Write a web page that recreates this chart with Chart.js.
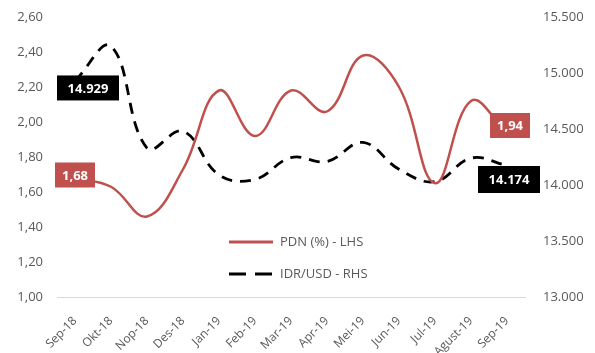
<!DOCTYPE html>
<html lang="id">
  <head>
    <meta charset="UTF-8" />
    <title>PDN vs IDR/USD</title>
  </head>
  <style>
    * {
      margin: 0;
      padding: 0;
    }
    body {
      background: #ffffff;
    }
    .chartBox {
      width: 595px;
      height: 353px;
    }
  </style>
  <body>
    <div class="chartBox">
      <canvas id="myChart" width="595" height="353"></canvas>
    </div>

    <script src="https://cdn.jsdelivr.net/npm/chart.js"></script>

    <script>
      // data
      const months = ["Sep-18", "Okt-18", "Nop-18", "Des-18", "Jan-19", "Feb-19", "Mar-19",
        "Apr-19", "Mei-19", "Jun-19", "Jul-19", "Agust-19", "Sep-19"];
      const pdn = [1.68, 1.63, 1.46, 1.73, 2.18, 1.92, 2.18, 2.06, 2.38, 2.20, 1.65, 2.12, 1.94];
      const idrUsd = [14929, 15240, 14330, 14480, 14090, 14050, 14245, 14210, 14380, 14140, 14030, 14240, 14174];
      const leftTicks = [1.0, 1.2, 1.4, 1.6, 1.8, 2.0, 2.2, 2.4, 2.6];
      const rightTicks = [13000, 13500, 14000, 14500, 15000, 15500];

      const fontFamily = "'Open Sans', 'Liberation Sans', sans-serif";
      const grey = "#595959";
      const red = "#C0504D";

      const fmtLeft = v => v.toFixed(2).replace(".", ",");
      const fmtRight = v => v.toLocaleString("de-DE");

      // boxed value labels on first and last points
      const valueLabels = {
        id: "valueLabels",
        afterDatasetsDraw(chart, args, opts) {
          const ctx = chart.ctx;
          opts.items.forEach(item => {
            const meta = chart.getDatasetMeta(item.dataset);
            const pt = meta.data[item.index];
            const raw = chart.data.datasets[item.dataset].data[item.index];
            const text = item.dataset === 0 ? fmtLeft(raw) : fmtRight(raw);
            const cx = pt.x + item.dx;
            const cy = pt.y + item.dy;
            ctx.save();
            ctx.font = "bold 13px " + fontFamily;
            ctx.fillStyle = item.bg;
            ctx.fillRect(cx - item.w / 2, cy - item.h / 2, item.w, item.h);
            ctx.fillStyle = "#ffffff";
            ctx.textAlign = "center";
            ctx.textBaseline = "middle";
            ctx.fillText(text, cx, cy + 1);
            ctx.restore();
          });
        }
      };

      // legend drawn inside the plot area
      const innerLegend = {
        id: "innerLegend",
        afterDraw(chart, args, opts) {
          const ctx = chart.ctx;
          ctx.save();
          chart.data.datasets.forEach((ds, i) => {
            const y = opts.y + i * opts.gap;
            ctx.beginPath();
            ctx.strokeStyle = ds.borderColor;
            ctx.lineWidth = 3;
            ctx.setLineDash(ds.borderDash ? [17, 9] : []);
            ctx.moveTo(opts.x, y);
            ctx.lineTo(opts.x + 44, y);
            ctx.stroke();
            ctx.setLineDash([]);
            ctx.fillStyle = grey;
            ctx.font = "13px " + fontFamily;
            ctx.textBaseline = "middle";
            ctx.fillText(ds.label, opts.x + 51, y);
          });
          ctx.restore();
        }
      };

      const data = {
        labels: months,
        datasets: [
          {
            label: "PDN (%) - LHS",
            data: pdn,
            borderColor: red,
            borderWidth: 2.5,
            tension: 0.4,
            pointRadius: 0,
            yAxisID: "y"
          },
          {
            label: "IDR/USD - RHS",
            data: idrUsd,
            borderColor: "#000000",
            borderWidth: 2.8,
            borderDash: [11, 8],
            tension: 0.4,
            pointRadius: 0,
            yAxisID: "y1"
          }
        ]
      };

      const config = {
        type: "line",
        data,
        options: {
          responsive: false,
          animation: false,
          layout: {
            padding: { top: 17, right: 0, bottom: 0, left: 0 }
          },
          plugins: {
            legend: { display: false },
            tooltip: { enabled: false },
            valueLabels: {
              items: [
                { dataset: 1, index: 0, dx: 13, dy: 7, w: 62, h: 25, bg: "#000000" },
                { dataset: 0, index: 0, dx: 0, dy: -3, w: 40, h: 25, bg: red },
                { dataset: 0, index: 12, dx: 3, dy: -7, w: 40, h: 25, bg: red },
                { dataset: 1, index: 12, dx: 2, dy: 14, w: 62, h: 27, bg: "#000000" }
              ]
            },
            innerLegend: { x: 229, y: 242, gap: 32 }
          },
          scales: {
            x: {
              offset: true,
              grid: { display: false, drawTicks: false },
              border: { display: true, color: "#d9d9d9", width: 1 },
              ticks: {
                color: grey,
                font: { family: fontFamily, size: 12 },
                minRotation: 45,
                maxRotation: 45,
                autoSkip: false,
                padding: 17
              },
              afterFit: s => { s.height = 56; }
            },
            y: {
              position: "left",
              min: 1.0,
              max: 2.6,
              afterBuildTicks: s => { s.ticks = leftTicks.map(v => ({ value: v })); },
              grid: { display: false, drawTicks: false },
              border: { display: false },
              ticks: {
                color: grey,
                font: { family: fontFamily, size: 13 },
                padding: 14,
                callback: v => fmtLeft(v)
              },
              afterFit: s => { s.width = 57; s.paddingTop = 0; s.paddingBottom = 0; }
            },
            y1: {
              position: "right",
              min: 13000,
              max: 15500,
              afterBuildTicks: s => { s.ticks = rightTicks.map(v => ({ value: v })); },
              grid: { display: false, drawTicks: false },
              border: { display: false },
              ticks: {
                color: grey,
                font: { family: fontFamily, size: 13 },
                padding: 18,
                callback: v => fmtRight(v)
              },
              afterFit: s => { s.width = 70; s.paddingTop = 0; s.paddingBottom = 0; }
            }
          }
        },
        plugins: [valueLabels, innerLegend]
      };

      const myChart = new Chart(document.getElementById("myChart"), config);
    </script>
  </body>
</html>
